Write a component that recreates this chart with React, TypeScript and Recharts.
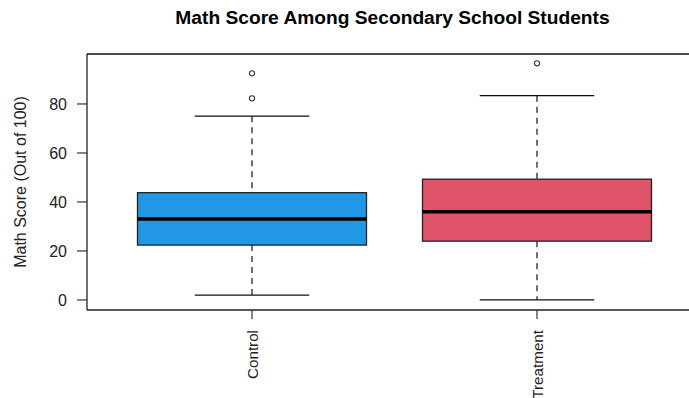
import React from "react";
import { ComposedChart, Bar, Scatter, XAxis, YAxis, ReferenceLine } from "recharts";

const categories = ["Control", "Treatment"];
const mins = [2, 0];
const q1s = [22.4, 24];
const medians = [33, 36];
const q3s = [43.8, 49.3];
const maxs = [75, 83.4];
const outliersA: (number | null)[] = [82.3, 96.6];
const outliersB: (number | null)[] = [92.5, null];
const fills = ["#2297E6", "#DF536B"];
const yTicks = [0, 20, 40, 60, 80];

const data = categories.map((name, i) => ({
  name,
  min: mins[i],
  q1: q1s[i],
  median: medians[i],
  q3: q3s[i],
  max: maxs[i],
  outA: outliersA[i],
  outB: outliersB[i],
  fill: fills[i],
}));

const FONT = "'Liberation Sans', Arial, sans-serif";

const BoxShape = (props: any) => {
  const { x, y, width, height, payload } = props;
  const top = Math.min(y, y + height);
  const bottom = Math.max(y, y + height);
  const { min, max, q1, q3, median, fill } = payload;
  const pix = (v: number) => top + ((bottom - top) * (max - v)) / (max - min);
  const cx = x + width / 2;
  const capHalf = width / 4;
  const yq1 = pix(q1);
  const yq3 = pix(q3);
  const ymed = pix(median);
  return (
    <g>
      <line x1={cx} x2={cx} y1={top} y2={yq3} stroke="#111" strokeWidth={1.2} strokeDasharray="6 5" />
      <line x1={cx} x2={cx} y1={yq1} y2={bottom} stroke="#111" strokeWidth={1.2} strokeDasharray="6 5" />
      <line x1={cx - capHalf} x2={cx + capHalf} y1={top} y2={top} stroke="#111" strokeWidth={1.3} />
      <line x1={cx - capHalf} x2={cx + capHalf} y1={bottom} y2={bottom} stroke="#111" strokeWidth={1.3} />
      <rect x={x} y={yq3} width={width} height={yq1 - yq3} fill={fill} stroke="#222" strokeWidth={1.3} />
      <line x1={x} x2={x + width} y1={ymed} y2={ymed} stroke="#000" strokeWidth={3.5} />
    </g>
  );
};

const makeOutlier = (key: string) => (props: any) => {
  const { cx, cy, payload } = props;
  if (payload == null || payload[key] == null) return <g />;
  return <circle cx={cx} cy={cy} r={2.6} fill="#fff" stroke="#333" strokeWidth={1.1} />;
};

const XTick = (props: any) => {
  const { x, y, payload } = props;
  const ty = y + 9;
  return (
    <text
      x={x}
      y={ty}
      transform={`rotate(-90, ${x}, ${ty})`}
      textAnchor="end"
      dominantBaseline="central"
      fontSize={15.2}
      fontFamily={FONT}
      fill="#222"
    >
      {payload.value}
    </text>
  );
};

const YLabel = (props: any) => {
  const vb = props.viewBox || {};
  const cy = (vb.y ?? 54) + (vb.height ?? 256) / 2;
  const lx = 26;
  return (
    <text
      x={lx}
      y={cy}
      transform={`rotate(-90, ${lx}, ${cy})`}
      textAnchor="middle"
      fontSize={16}
      fontFamily={FONT}
      fill="#222"
    >
      Math Score (Out of 100)
    </text>
  );
};

export default function App() {
  return (
    <div style={{ position: "absolute", left: 0, top: 0, width: 689, height: 398, background: "#fff" }}>
      <div
        style={{
          position: "absolute",
          left: 92.5,
          width: 600,
          top: 7,
          textAlign: "center",
          fontFamily: FONT,
          fontWeight: "bold",
          fontSize: 19.2,
          lineHeight: "22px",
          color: "#000",
        }}
      >
        Math Score Among Secondary School Students
      </div>
      <ComposedChart
        width={689}
        height={398}
        data={data}
        margin={{ top: 54, right: 0, bottom: 0, left: 0 }}
        style={{ position: "absolute", left: 0, top: 0 }}
      >
        <XAxis
          dataKey="name"
          type="category"
          height={88}
          padding={{ left: 22.5, right: 9.5 }}
          axisLine={{ stroke: "#222", strokeWidth: 1.3 }}
          tickLine={{ stroke: "#222", strokeWidth: 1.1 }}
          tickSize={9}
          tick={<XTick />}
          interval={0}
        />
        <YAxis
          type="number"
          width={87}
          domain={[-4.1, 100.4]}
          allowDataOverflow
          ticks={yTicks}
          axisLine={{ stroke: "#222", strokeWidth: 1.3 }}
          tickLine={{ stroke: "#222", strokeWidth: 1.1 }}
          tickSize={10}
          tickMargin={10}
          tick={{ fontSize: 16, fontFamily: FONT, fill: "#222" }}
          label={<YLabel />}
        />
        <ReferenceLine y={100.4} stroke="#111" strokeWidth={1.5} ifOverflow="visible" />
        <Bar
          dataKey={(d: any) => [d.min, d.max]}
          barSize={229}
          shape={<BoxShape />}
          isAnimationActive={false}
        />
        <Scatter dataKey="outA" shape={makeOutlier("outA")} isAnimationActive={false} />
        <Scatter dataKey="outB" shape={makeOutlier("outB")} isAnimationActive={false} />
      </ComposedChart>
    </div>
  );
}
